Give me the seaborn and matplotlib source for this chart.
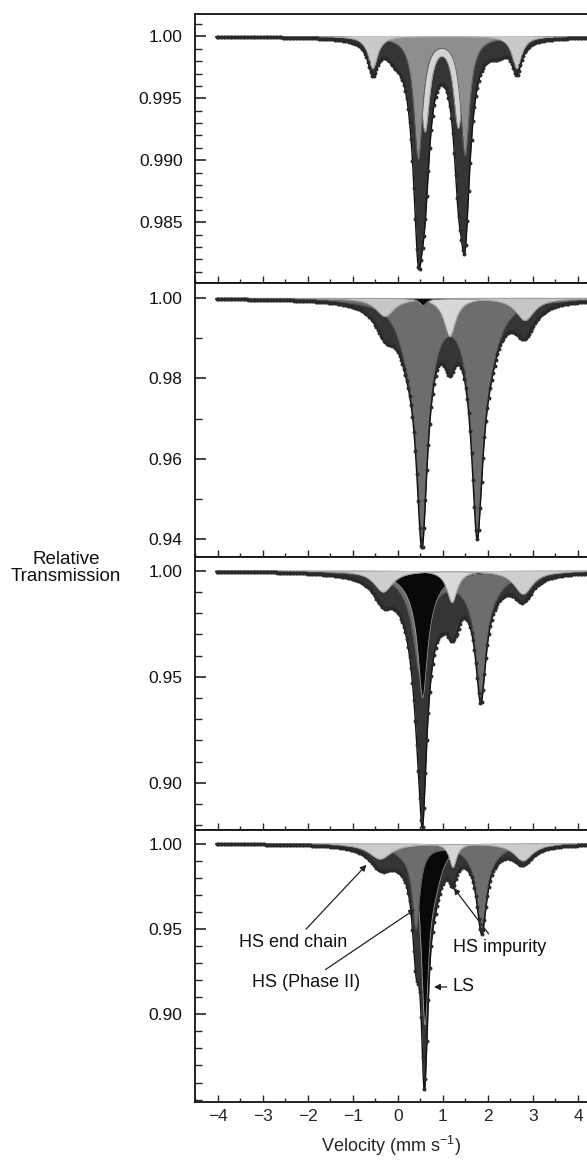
import numpy as np
import pandas as pd
import matplotlib
matplotlib.use("Agg")
import matplotlib.pyplot as plt
from matplotlib.ticker import MultipleLocator, FixedLocator
import seaborn as sns

# ---------------- data ----------------
velocity_ticks = [-4, -3, -2, -1, 0, 1, 2, 3, 4]
velocity_tick_labels = ["\u22124", "\u22123", "\u22122", "\u22121", "0", "1", "2", "3", "4"]

panel_ylims = [(0.9801, 1.0018), (0.9355, 1.0038), (0.8777, 1.0065), (0.8486, 1.0080)]
panel_yticks = [[1.000, 0.995, 0.990, 0.985],
                [1.00, 0.98, 0.96, 0.94],
                [1.00, 0.95, 0.90],
                [1.00, 0.95, 0.90]]
panel_ytick_labels = [["1.00", "0.995", "0.990", "0.985"],
                      ["1.00", "0.98", "0.96", "0.94"],
                      ["1.00", "0.95", "0.90"],
                      ["1.00", "0.95", "0.90"]]
panel_minor_step = [0.001, 0.01, 0.01, 0.01]

# Absorption lines of each sub-spectrum: position (mm/s), depth, half width, component
p1_pos   = [0.45, 1.49, 0.60, 1.34, 0.45, 1.49, -0.07, 2.22, -0.56, 2.64]
p1_depth = [0.0098, 0.0095, 0.0075, 0.0072, 0.0050, 0.0042, 0.0008, 0.0008, 0.0026, 0.0026]
p1_hwhm  = [0.12, 0.12, 0.13, 0.13, 0.20, 0.20, 0.20, 0.20, 0.13, 0.13]
p1_comp  = ["grey", "grey", "light", "light", "dark", "dark", "dark", "dark", "side", "side"]

p2_pos   = [0.53, 0.53, 1.76, 1.76, 0.20, 2.05, 1.15, -0.29, 2.82, -0.25, 2.80, 0.56]
p2_depth = [0.036, 0.020, 0.035, 0.020, 0.006, 0.006, 0.0095, 0.0045, 0.0055, 0.002, 0.002, 0.0018]
p2_hwhm  = [0.13, 0.25, 0.13, 0.25, 0.25, 0.25, 0.16, 0.25, 0.25, 0.30, 0.30, 0.10]
p2_comp  = ["grey", "grey", "grey", "grey", "grey", "grey", "light", "side", "side",
            "dark", "dark", "black"]

p3_pos   = [0.48, 0.48, 1.84, 1.84, 0.55, 0.55, 1.20, -0.33, 2.78, 1.00, 1.32, 0.55]
p3_depth = [0.035, 0.012, 0.046, 0.012, 0.045, 0.015, 0.015, 0.010, 0.011, 0.004, 0.005, 0.016]
p3_hwhm  = [0.16, 0.40, 0.13, 0.40, 0.12, 0.35, 0.14, 0.25, 0.25, 0.15, 0.08, 0.07]
p3_comp  = ["grey", "grey", "grey", "grey", "black", "black", "light", "side", "side",
            "dark", "dark", "dark"]

p4_pos   = [0.40, 0.15, 1.86, 1.86, 0.60, 0.82, 1.22, -0.40, 2.78, -0.30, 0.57]
p4_depth = [0.046, 0.005, 0.044, 0.006, 0.098, 0.018, 0.014, 0.009, 0.010, 0.003, 0.028]
p4_hwhm  = [0.10, 0.35, 0.13, 0.40, 0.10, 0.20, 0.10, 0.30, 0.25, 0.30, 0.06]
p4_comp  = ["grey", "grey", "grey", "grey", "black", "black", "light", "side", "side",
            "dark", "dark"]

annotation_texts = ["HS end chain", "HS (Phase II)", "HS impurity", "LS"]
annotation_xy     = [(-0.70, 0.9876), (0.38, 0.9616), (1.24, 0.974), (0.80, 0.916)]
annotation_textxy = [(-2.33, 0.9418), (-2.05, 0.9184), (2.25, 0.9390), (1.22, 0.9160)]

# ---------------- styles ----------------
panels = [
    dict(pos=p1_pos, depth=p1_depth, hwhm=p1_hwhm, comp=p1_comp,
         order=["light", "grey", "side"],
         colors={"light": "#d4d4d4", "grey": "#8e8e8e", "side": "#c9c9c9"}),
    dict(pos=p2_pos, depth=p2_depth, hwhm=p2_hwhm, comp=p2_comp,
         order=["grey", "light", "side", "black"],
         colors={"grey": "#6d6d6d", "light": "#d8d8d8", "side": "#c6c6c6", "black": "#0a0a0a"}),
    dict(pos=p3_pos, depth=p3_depth, hwhm=p3_hwhm, comp=p3_comp,
         order=["grey", "black", "light", "side"],
         colors={"grey": "#6d6d6d", "light": "#dadada", "black": "#080808", "side": "#cfcfcf"}),
    dict(pos=p4_pos, depth=p4_depth, hwhm=p4_hwhm, comp=p4_comp,
         order=["black", "grey", "light", "side"],
         colors={"grey": "#6d6d6d", "light": "#d6d6d6", "black": "#080808", "side": "#cccccc"}),
]
DARK = "#353535"

sns.set_theme(style="ticks")
plt.rcParams["font.family"] = ["Liberation Sans", "DejaVu Sans"]
plt.rcParams["mathtext.fontset"] = "custom"
plt.rcParams["mathtext.rm"] = "Liberation Sans"
plt.rcParams["mathtext.it"] = "Liberation Sans"

W, H = 587, 1160
fig = plt.figure(figsize=(W / 100, H / 100), dpi=100)
fig.patch.set_facecolor("white")

bounds_px = [(14, 283), (283, 557), (557, 830), (830, 1102)]
left_px = 195

v_fit = np.linspace(-4.05, 4.45, 1400)
v_pts = np.arange(-4.03, 4.45, 0.032)


def lines_sum(v, pos, depth, hwhm, comp, sel=None):
    s = np.zeros_like(v)
    for p, d, h, c in zip(pos, depth, hwhm, comp):
        if sel is None or c == sel:
            s += d / (1.0 + ((v - p) / h) ** 2)
    return s


axes = []
for i, (pn, (top, bot)) in enumerate(zip(panels, bounds_px)):
    ax = fig.add_axes([left_px / W, 1 - bot / H, (W - left_px) / W, (bot - top) / H])
    ax.set_facecolor("white")
    axes.append(ax)
    total = 1 - lines_sum(v_fit, pn["pos"], pn["depth"], pn["hwhm"], pn["comp"])
    ax.fill_between(v_fit, total, 1.0, color=DARK, lw=0, zorder=1)
    for k, name in enumerate(pn["order"]):
        comp_curve = 1 - lines_sum(v_fit, pn["pos"], pn["depth"], pn["hwhm"], pn["comp"], name)
        ax.fill_between(v_fit, comp_curve, 1.0, color=pn["colors"][name], lw=0, zorder=2 + k)
        ax.plot(v_fit, comp_curve, color="#9a9a9a" if name != "grey" else "#5a5a5a",
                lw=0.6, zorder=2 + k)
    df_fit = pd.DataFrame({"v": v_fit, "t": total})
    sns.lineplot(data=df_fit, x="v", y="t", ax=ax, color="#111111", lw=1.0, zorder=10)
    pts = 1 - lines_sum(v_pts, pn["pos"], pn["depth"], pn["hwhm"], pn["comp"])
    df_pts = pd.DataFrame({"v": v_pts, "t": pts})
    sns.scatterplot(data=df_pts, x="v", y="t", ax=ax, color="#2a2a2a", s=8,
                    linewidth=0, zorder=11)

    ax.set_xlim(-4.51, 4.20)
    ax.set_ylim(*panel_ylims[i])
    ax.set_xlabel("")
    ax.set_ylabel("")
    ax.yaxis.set_major_locator(FixedLocator(panel_yticks[i]))
    ax.set_yticklabels(panel_ytick_labels[i])
    ax.yaxis.set_minor_locator(MultipleLocator(panel_minor_step[i]))
    ax.xaxis.set_major_locator(FixedLocator(velocity_ticks))
    ax.xaxis.set_minor_locator(MultipleLocator(0.5))
    ax.tick_params(axis="y", which="major", direction="in", length=8, width=1.1,
                   labelsize=12.5, pad=9, colors="#111111", left=True, right=False)
    ax.tick_params(axis="y", which="minor", direction="in", length=5, width=1.0,
                   left=True, right=False)
    ax.tick_params(axis="x", which="major", direction="in", length=5, width=1.0,
                   bottom=True, top=False, labelsize=12.5, pad=5)
    ax.tick_params(axis="x", which="minor", direction="in", length=3, width=1.0,
                   bottom=True, top=False)
    for s in ["left", "bottom", "top"]:
        ax.spines[s].set_linewidth(1.3)
        ax.spines[s].set_color("#111111")
        ax.spines[s].set_zorder(20)
    ax.spines["right"].set_visible(False)
    if i < 3:
        ax.set_xticklabels([])
    else:
        ax.set_xticklabels(velocity_tick_labels)
        ax.set_xlabel("Velocity (mm s$^{\u22121}$)", fontsize=13, labelpad=7)

ax4 = axes[3]
for txt, xy, txy in zip(annotation_texts, annotation_xy, annotation_textxy):
    ha = "left" if txt == "LS" else "center"
    ax4.annotate(txt, xy=xy, xytext=txy, fontsize=13, ha=ha, va="center",
                 color="#111111", zorder=30,
                 arrowprops=dict(arrowstyle="-|>", color="#222222", lw=0.9,
                                 mutation_scale=9, shrinkA=2, shrinkB=0))

fig.text(66 / W, 1 - 568 / H, "Relative\nTransmission", ha="center", va="center",
         fontsize=13.5, linespacing=0.95, color="#111111")

fig.savefig("out.png", dpi=100, facecolor="white")
